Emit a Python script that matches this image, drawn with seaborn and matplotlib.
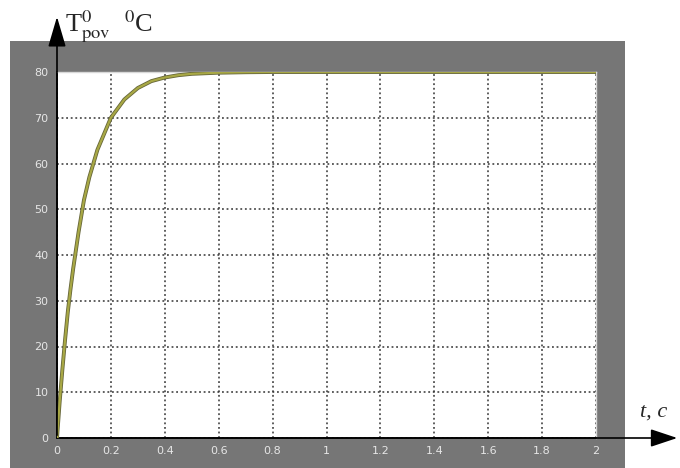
# scope_heating.py
# Heating curve of the surface temperature, drawn in the style of a Simulink scope.

import matplotlib
matplotlib.use("Agg")
import matplotlib.pyplot as plt
import matplotlib.patheffects as pe
from matplotlib.patches import Rectangle, FancyArrowPatch
import pandas as pd
import seaborn as sns

# values
time_s = [0, 0.01, 0.02, 0.03, 0.04, 0.05, 0.06, 0.08, 0.10, 0.12, 0.15, 0.20,
          0.25, 0.30, 0.35, 0.40, 0.45, 0.50, 0.60, 0.70, 0.80, 1.0, 1.2, 1.4,
          1.6, 1.8, 2.0]
temp_c = [0, 8, 15, 21.5, 27.5, 32.5, 37, 45, 52, 57, 63, 70,
          74, 76.5, 78, 78.8, 79.3, 79.6, 79.85, 79.95, 80, 80, 80, 80,
          80, 80, 80]
x_ticks = [0, 0.2, 0.4, 0.6, 0.8, 1.0, 1.2, 1.4, 1.6, 1.8, 2.0]
x_tick_labels = ["0", "0.2", "0.4", "0.6", "0.8", "1", "1.2", "1.4", "1.6", "1.8", "2"]
y_ticks = [0, 10, 20, 30, 40, 50, 60, 70, 80]

W, H = 680, 468


def fx(px):
    return px / W


def fy(py):
    return 1 - py / H


sns.set_style("white")
plt.rcParams["mathtext.fontset"] = "stix"

fig = plt.figure(figsize=(W / 100, H / 100), dpi=100, facecolor="white")

# grey scope frame, behind the axes
fig.add_artist(Rectangle((fx(10), 0), fx(625) - fx(10), fy(41),
                         transform=fig.transFigure, facecolor="#767676",
                         edgecolor="none", zorder=-10))

ax = fig.add_axes([fx(57), fy(438), fx(596) - fx(57), fy(72) - fy(438)])
ax.set_facecolor("white")

df = pd.DataFrame({"t": time_s, "T": temp_c})
sns.lineplot(data=df, x="t", y="T", ax=ax, color="#a8a845", linewidth=1.6,
             path_effects=[pe.Stroke(linewidth=2.8, foreground="#66663a"), pe.Normal()],
             zorder=5)

ax.set_xlim(0, 2)
ax.set_ylim(0, 80)
ax.set_xticks(x_ticks)
ax.set_xticklabels(x_tick_labels)
ax.set_yticks(y_ticks)
ax.set_xlabel("")
ax.set_ylabel("")
ax.tick_params(length=0, colors="#e6e6e6", labelsize=8, pad=6)
ax.grid(True, color="#333333", linestyle=(0, (1.2, 1.8)), linewidth=1.1)
for side in ["top", "right"]:
    ax.spines[side].set_color("#d8d8d8")
    ax.spines[side].set_linewidth(1)
for side in ["left", "bottom"]:
    ax.spines[side].set_color("black")
    ax.spines[side].set_linewidth(1.2)

# axis arrows
fig.add_artist(FancyArrowPatch(
    (fx(57), fy(438)), (fx(57), fy(14)), transform=fig.transFigure,
    arrowstyle="-|>,head_length=0.85,head_width=0.25", mutation_scale=22,
    color="black", linewidth=1.2, zorder=10))
fig.add_artist(FancyArrowPatch(
    (fx(57), fy(438)), (fx(680), fy(438)), transform=fig.transFigure,
    arrowstyle="-|>,head_length=0.75,head_width=0.25", mutation_scale=22,
    color="black", linewidth=1.2, zorder=10))

fig.text(fx(65), fy(27), r"T$^{0}_{\rm pov}$  $^{0}$C", fontsize=19,
         family="Liberation Serif", va="center", ha="left")
fig.text(fx(640), fy(412), "t, c", fontsize=16, family="Liberation Serif",
         style="italic", va="center", ha="left")

fig.savefig("out.png", dpi=100, facecolor="white")
